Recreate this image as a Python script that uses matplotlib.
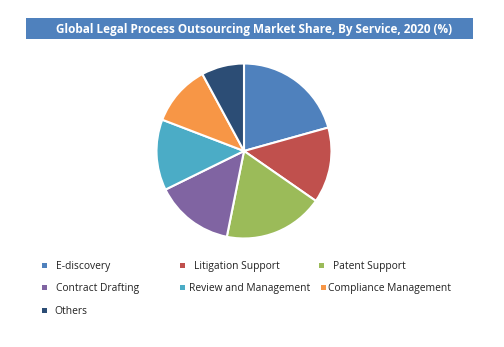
import matplotlib
matplotlib.use("Agg")
import matplotlib.pyplot as plt
from matplotlib.patches import Rectangle

plt.rcParams['font.family'] = ['Open Sans', 'DejaVu Sans']

title = "Global Legal Process Outsourcing Market Share, By Service, 2020 (%)"
categories = ["E-discovery", "Litigation Support", "Patent Support",
              "Contract Drafting", "Review and Management", "Compliance Management",
              "Others"]
values = [20.7, 14.0, 18.5, 14.6, 13.1, 11.3, 7.9]
colors = ["#4F81BD", "#C0504D", "#9BBB59", "#8064A2", "#4BACC6", "#F79646", "#2C4D75"]

W, H = 504, 347
fig = plt.figure(figsize=(W / 100, H / 100), dpi=100)

# Title banner
fig.patches.append(Rectangle((26 / W, 1 - 39 / H), (473 - 26) / W, 21 / H,
                             transform=fig.transFigure, facecolor="#4F81BD",
                             edgecolor="none", zorder=0))
fig.text(254 / W, 1 - 29.5 / H, title, ha="center", va="center", color="white",
         fontsize=8.45, fontweight="bold")

# Pie
cx, cy, r = 244, 151, 87.5
ax = fig.add_axes([(cx - r) / W, (H - cy - r) / H, 2 * r / W, 2 * r / H])
ax.pie(values, colors=colors, startangle=90, counterclock=False,
       wedgeprops=dict(edgecolor="white", linewidth=1.5))
ax.set_xlim(-1, 1)
ax.set_ylim(-1, 1)
ax.set_aspect("equal")
ax.axis("off")

# Legend (manual placement to match reference)
marker_pos = [(44, 265), (182, 265), (321, 265),
              (44, 287), (182, 287), (323, 287),
              (44, 310)]
text_pos = [(56, 266), (194, 266), (333, 266),
            (56, 288), (189, 288), (328, 288),
            (54, 311)]
for cat, col, (mx, my), (tx, ty) in zip(categories, colors, marker_pos, text_pos):
    fig.patches.append(Rectangle(((mx - 2.5) / W, 1 - (my + 2.5) / H), 5 / W, 5 / H,
                                 transform=fig.transFigure, facecolor=col,
                                 edgecolor="none"))
    fig.text(tx / W, 1 - ty / H, cat, ha="left", va="center", fontsize=7.4,
             color="#222222")

fig.savefig("out.png", dpi=100)
